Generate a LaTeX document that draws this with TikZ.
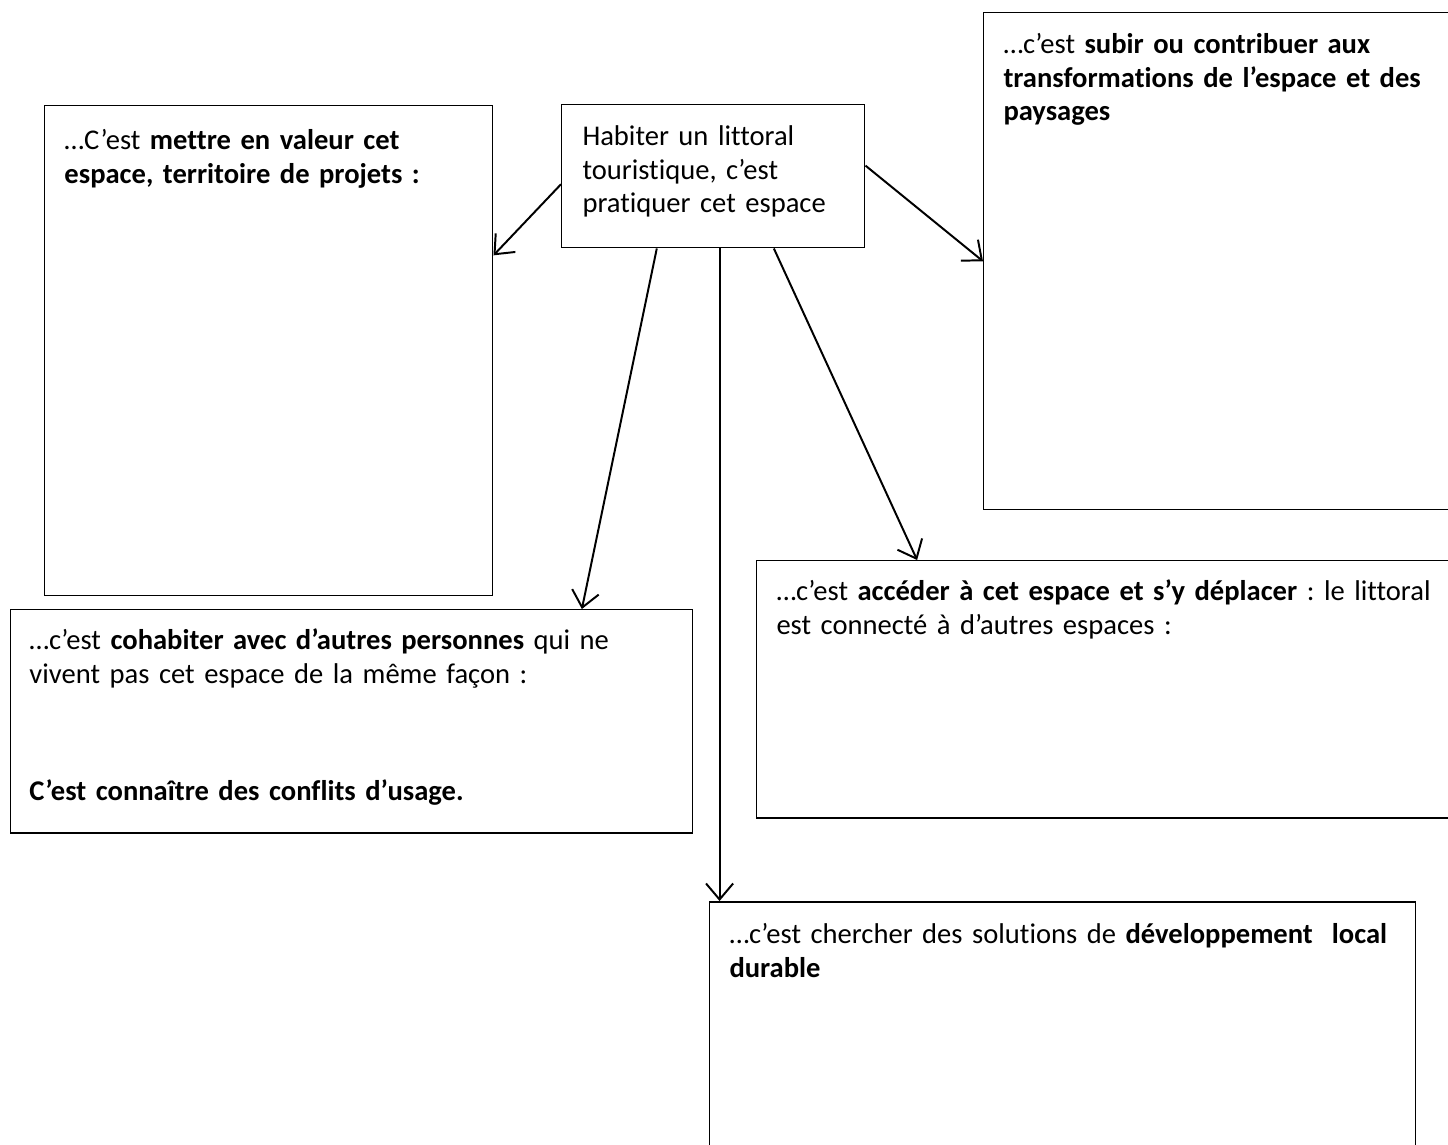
\documentclass[tikz,border=0pt]{standalone}
\usepackage{fontspec}
\setmainfont{Carlito}[Ligatures=NoCommon]
\frenchspacing
\usetikzlibrary{arrows.meta}
\newcommand{\px}{0.406pt}

\begin{document}
\begin{tikzpicture}[
    x=\px, y=-\px,
    cadre/.style={draw, line width=0.6pt, anchor=north west, inner sep=0pt},
    texte/.style={anchor=base west, align=left, inner sep=0pt,
                  font=\fontsize{11.6}{13.8}\selectfont},
    fleche/.style={draw, line width=0.8pt, -{Straight Barb[length=6.5pt, width=11pt]}},
]
\clip (0,0) rectangle (1448,1144);

% Cadres
\node[cadre, minimum width=303*\px, minimum height=143*\px] (hab) at (561,104) {};
\node[cadre, minimum width=448*\px, minimum height=490*\px] (valeur) at (44,105) {};
\node[cadre, minimum width=477*\px, minimum height=497*\px] (subir) at (983,12) {};
\node[cadre, minimum width=704*\px, minimum height=257*\px] (acceder) at (756,560) {};
\node[cadre, minimum width=682*\px, minimum height=223*\px] (cohab) at (10,609) {};
\node[cadre, minimum width=706*\px, minimum height=260*\px] (durable) at (709,901) {};

% Textes
\node[texte, text width=290*\px] (hab-t) at ([shift={(21,41)}]hab.north west)
    {Habiter un littoral\\ touristique, c’est\\ pratiquer cet espace};
\node[texte, text width=425*\px] (valeur-t) at ([shift={(20,44)}]valeur.north west)
    {…C’est \textbf{mettre en valeur cet}\\ \textbf{espace, territoire de projets :}};
\node[texte, text width=460*\px] (subir-t) at ([shift={(20,41)}]subir.north west)
    {…c’est \textbf{subir ou contribuer aux}\\ \textbf{transformations de l’espace et des}\\ \textbf{paysages}};
\node[texte, text width=690*\px] (acceder-t) at ([shift={(20,40)}]acceder.north west)
    {…c’est \textbf{accéder à cet espace et s’y déplacer} : le littoral\\ est connecté à d’autres espaces :};
\node[texte, text width=660*\px] (cohab-t) at ([shift={(19,40)}]cohab.north west)
    {…c’est \textbf{cohabiter avec d’autres personnes} qui ne\\ vivent pas cet espace de la même façon :\\[34pt]
     \textbf{C’est connaître des conflits d’usage.}};
\node[texte, text width=695*\px] (durable-t) at ([shift={(20,42)}]durable.north west)
    {…c’est chercher des solutions de \textbf{développement~ local}\\ \textbf{durable}};

% Fleches
\draw[fleche] (hab.183) -- (valeur.23);
\draw[fleche] (hab.4) -- (subir.west);
\draw[fleche] (hab.232) -- (cohab.26);
\draw[fleche] (hab.275) -- (hab.275 |- durable.north);
\draw[fleche] (hab.310) -- (acceder.146);

\end{tikzpicture}
\end{document}
